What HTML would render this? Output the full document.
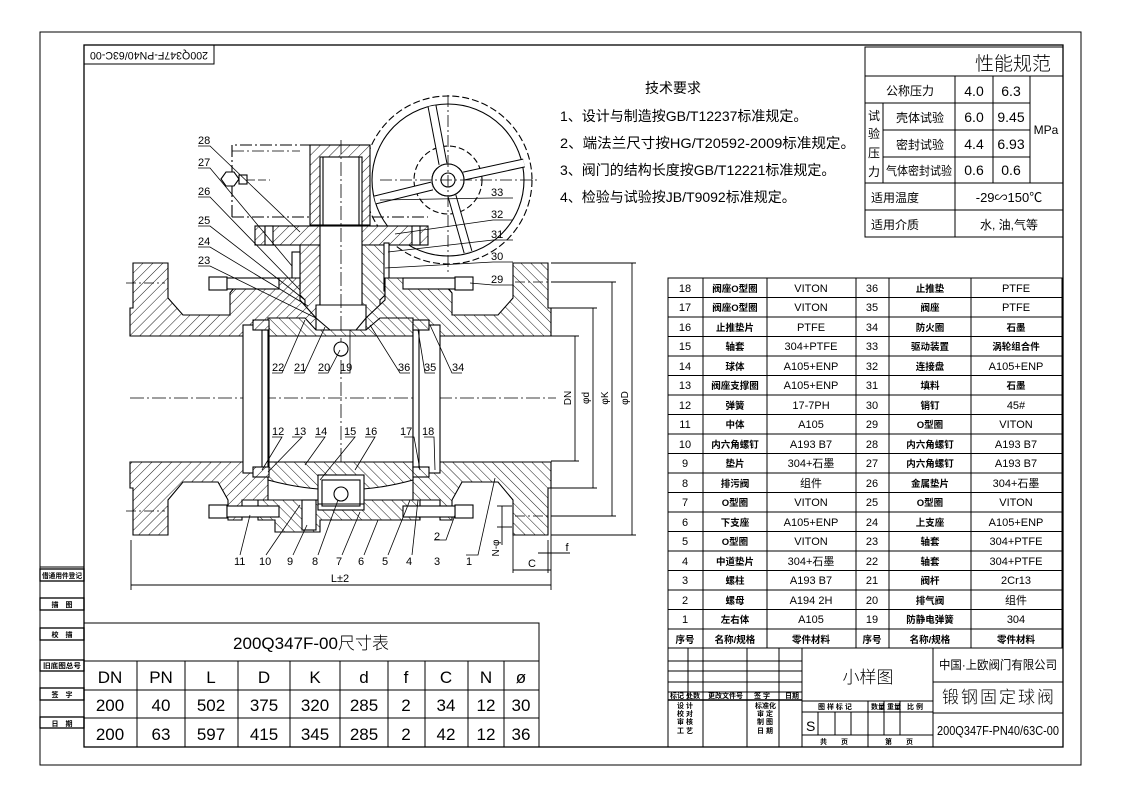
<!DOCTYPE html>
<html><head><meta charset="utf-8"><style>
html,body{margin:0;padding:0;background:#fff;}
svg{display:block;}
text{font-family:"Liberation Sans","Noto Sans CJK SC",sans-serif;fill:#000;}
.c{font-family:"Liberation Sans","Noto Sans CJK SC",sans-serif;}
</style></head><body>
<svg width="1122" height="793" viewBox="0 0 1122 793" xmlns="http://www.w3.org/2000/svg">
<defs>
<pattern id="h" patternUnits="userSpaceOnUse" width="7" height="7" patternTransform="rotate(45)">
<rect width="7" height="7" fill="#fff"/><line x1="0" y1="0" x2="0" y2="7" stroke="#000" stroke-width="0.9"/>
</pattern>
<pattern id="h2" patternUnits="userSpaceOnUse" width="7" height="7" patternTransform="rotate(-45)">
<rect width="7" height="7" fill="#fff"/><line x1="0" y1="0" x2="0" y2="7" stroke="#000" stroke-width="0.9"/>
</pattern>
</defs>
<rect width="1122" height="793" fill="#fff"/>
<rect x="40" y="32" width="1041" height="733" fill="none" stroke="#000" stroke-width="1"/>
<rect x="84" y="45" width="979" height="702" fill="none" stroke="#000" stroke-width="1.3"/>
<rect x="84" y="45" width="130" height="19" fill="none" stroke="#000"/>
<text x="149" y="55" transform="rotate(180 149 55)" text-anchor="middle" dominant-baseline="middle" font-size="11" textLength="118" lengthAdjust="spacingAndGlyphs">200Q347F-PN40/63C-00</text>

<g stroke="#000" fill="none">
<line x1="40" y1="567" x2="84" y2="567"/>
<rect x="40" y="569" width="44" height="12" stroke-width="1.3"/>
<rect x="40" y="598" width="44" height="12" stroke-width="1.3"/>
<rect x="40" y="628" width="44" height="12" stroke-width="1.3"/>
<rect x="40" y="660" width="44" height="11" stroke-width="1.3"/>
<rect x="40" y="688" width="44" height="12" stroke-width="1.3"/>
<rect x="40" y="717" width="44" height="11" stroke-width="1.3"/>
</g>
<g class="c" font-size="7" font-weight="bold" text-anchor="middle">
<text x="62" y="578" textLength="40" lengthAdjust="spacingAndGlyphs">借通用件登记</text>
<text x="62" y="607">描　图</text>
<text x="62" y="637">校　描</text>
<text x="62" y="668" textLength="38" lengthAdjust="spacingAndGlyphs">旧底图总号</text>
<text x="62" y="697">签　字</text>
<text x="62" y="726">日　期</text>
</g>

<g stroke="#000" fill="none" stroke-width="1">
<rect x="84" y="623" width="455" height="124"/>
<line x1="84" y1="661" x2="539" y2="661"/>
<line x1="84" y1="690" x2="539" y2="690"/>
<line x1="84" y1="718" x2="539" y2="718"/>
<line x1="137" y1="661" x2="137" y2="747"/><line x1="185" y1="661" x2="185" y2="747"/>
<line x1="238" y1="661" x2="238" y2="747"/><line x1="290" y1="661" x2="290" y2="747"/>
<line x1="340" y1="661" x2="340" y2="747"/><line x1="388" y1="661" x2="388" y2="747"/>
<line x1="425" y1="661" x2="425" y2="747"/><line x1="468" y1="661" x2="468" y2="747"/>
<line x1="504" y1="661" x2="504" y2="747"/>
</g>
<text x="311" y="649" class="c" font-size="17" text-anchor="middle" font-weight="300">200Q347F-00尺寸表</text>
<g font-size="17" text-anchor="middle">
<text x="110" y="683">DN</text><text x="161" y="683">PN</text><text x="211" y="683">L</text><text x="264" y="683">D</text><text x="315" y="683">K</text><text x="364" y="683">d</text><text x="406" y="683">f</text><text x="446" y="683">C</text><text x="486" y="683">N</text><text x="521" y="683">ø</text>
<text x="110" y="711">200</text><text x="161" y="711">40</text><text x="211" y="711">502</text><text x="264" y="711">375</text><text x="315" y="711">320</text><text x="364" y="711">285</text><text x="406" y="711">2</text><text x="446" y="711">34</text><text x="486" y="711">12</text><text x="521" y="711">30</text>
<text x="110" y="740">200</text><text x="161" y="740">63</text><text x="211" y="740">597</text><text x="264" y="740">415</text><text x="315" y="740">345</text><text x="364" y="740">285</text><text x="406" y="740">2</text><text x="446" y="740">42</text><text x="486" y="740">12</text><text x="521" y="740">36</text>
</g>

<g stroke="#000" fill="none">
<rect x="865" y="47" width="198" height="190"/>
<line x1="865" y1="76" x2="1063" y2="76"/>
<line x1="865" y1="103" x2="1030" y2="103"/>
<line x1="883" y1="130" x2="1030" y2="130"/>
<line x1="883" y1="157" x2="1030" y2="157"/>
<line x1="865" y1="183" x2="1063" y2="183"/>
<line x1="865" y1="210" x2="1063" y2="210"/>
<line x1="883" y1="103" x2="883" y2="183"/>
<line x1="955" y1="76" x2="955" y2="237"/>
<line x1="993" y1="76" x2="993" y2="183"/>
<line x1="1030" y1="76" x2="1030" y2="183"/>
</g>
<g class="c" text-anchor="middle">
<text x="1013" y="70" font-size="19" font-weight="300">性能规范</text>
<text x="910" y="95" font-size="12">公称压力</text>
<text x="920" y="122" font-size="12">壳体试验</text>
<text x="920" y="149" font-size="12">密封试验</text>
<text x="919" y="175" font-size="12" textLength="66" lengthAdjust="spacingAndGlyphs">气体密封试验</text>
<text x="874" y="120" font-size="12">试</text><text x="874" y="138" font-size="12">验</text><text x="874" y="157" font-size="12">压</text><text x="874" y="176" font-size="12">力</text>
<text x="895" y="202" font-size="12">适用温度</text>
<text x="895" y="229" font-size="12">适用介质</text>
<text x="1009" y="229" font-size="12">水, 油,气等</text>
</g>
<g font-size="14" text-anchor="middle">
<text x="974" y="96">4.0</text><text x="1011" y="96">6.3</text>
<text x="974" y="122">6.0</text><text x="1011" y="122">9.45</text>
<text x="974" y="149">4.4</text><text x="1011" y="149">6.93</text>
<text x="974" y="175">0.6</text><text x="1011" y="175">0.6</text>
<text x="1046" y="134" font-size="12">MPa</text>
<text x="1009" y="202" class="c" font-size="13">-29∽150℃</text>
</g>

<g class="c" font-size="14">
<text x="645" y="93">技术要求</text>
<text x="560" y="121">1、设计与制造按GB/T12237标准规定。</text>
<text x="560" y="148" textLength="295" lengthAdjust="spacingAndGlyphs">2、端法兰尺寸按HG/T20592-2009标准规定。</text>
<text x="560" y="175">3、阀门的结构长度按GB/T12221标准规定。</text>
<text x="560" y="202">4、检验与试验按JB/T9092标准规定。</text>
</g>

<g stroke="#000" fill="none">
<rect x="668" y="278" width="394" height="370"/>
<line x1="703" y1="278" x2="703" y2="648"/><line x1="767" y1="278" x2="767" y2="648"/>
<line x1="856" y1="278" x2="856" y2="648"/><line x1="889" y1="278" x2="889" y2="648"/>
<line x1="971" y1="278" x2="971" y2="648"/>
</g>
<g stroke="#000">
<line x1="668" y1="297.5" x2="1062" y2="297.5"/><line x1="668" y1="317" x2="1062" y2="317"/><line x1="668" y1="336.5" x2="1062" y2="336.5"/><line x1="668" y1="356" x2="1062" y2="356"/><line x1="668" y1="375.5" x2="1062" y2="375.5"/><line x1="668" y1="395" x2="1062" y2="395"/><line x1="668" y1="414.5" x2="1062" y2="414.5"/><line x1="668" y1="434" x2="1062" y2="434"/><line x1="668" y1="453.5" x2="1062" y2="453.5"/><line x1="668" y1="473" x2="1062" y2="473"/><line x1="668" y1="492.5" x2="1062" y2="492.5"/><line x1="668" y1="512" x2="1062" y2="512"/><line x1="668" y1="531.5" x2="1062" y2="531.5"/><line x1="668" y1="551" x2="1062" y2="551"/><line x1="668" y1="570.5" x2="1062" y2="570.5"/><line x1="668" y1="590" x2="1062" y2="590"/><line x1="668" y1="609.5" x2="1062" y2="609.5"/><line x1="668" y1="629" x2="1062" y2="629"/>
</g>
<g font-size="11" text-anchor="middle">
<text x="685" y="292">18</text><text x="811" y="292">VITON</text><text x="872" y="292">36</text><text x="1016" y="292">PTFE</text>
<text x="685" y="311">17</text><text x="811" y="311">VITON</text><text x="872" y="311">35</text><text x="1016" y="311">PTFE</text>
<text x="685" y="331">16</text><text x="811" y="331">PTFE</text><text x="872" y="331">34</text>
<text x="685" y="350">15</text><text x="811" y="350">304+PTFE</text><text x="872" y="350">33</text>
<text x="685" y="370">14</text><text x="811" y="370">A105+ENP</text><text x="872" y="370">32</text><text x="1016" y="370">A105+ENP</text>
<text x="685" y="389">13</text><text x="811" y="389">A105+ENP</text><text x="872" y="389">31</text>
<text x="685" y="409">12</text><text x="811" y="409">17-7PH</text><text x="872" y="409">30</text><text x="1016" y="409">45#</text>
<text x="685" y="428">11</text><text x="811" y="428">A105</text><text x="872" y="428">29</text><text x="1016" y="428">VITON</text>
<text x="685" y="448">10</text><text x="811" y="448">A193 B7</text><text x="872" y="448">28</text><text x="1016" y="448">A193 B7</text>
<text x="685" y="467">9</text><text x="811" y="467">304+石墨</text><text x="872" y="467">27</text><text x="1016" y="467">A193 B7</text>
<text x="685" y="487">8</text><text x="811" y="487">组件</text><text x="872" y="487">26</text><text x="1016" y="487">304+石墨</text>
<text x="685" y="506">7</text><text x="811" y="506">VITON</text><text x="872" y="506">25</text><text x="1016" y="506">VITON</text>
<text x="685" y="526">6</text><text x="811" y="526">A105+ENP</text><text x="872" y="526">24</text><text x="1016" y="526">A105+ENP</text>
<text x="685" y="545">5</text><text x="811" y="545">VITON</text><text x="872" y="545">23</text><text x="1016" y="545">304+PTFE</text>
<text x="685" y="565">4</text><text x="811" y="565">304+石墨</text><text x="872" y="565">22</text><text x="1016" y="565">304+PTFE</text>
<text x="685" y="584">3</text><text x="811" y="584">A193 B7</text><text x="872" y="584">21</text><text x="1016" y="584">2Cr13</text>
<text x="685" y="604">2</text><text x="811" y="604">A194 2H</text><text x="872" y="604">20</text><text x="1016" y="604">组件</text>
<text x="685" y="623">1</text><text x="811" y="623">A105</text><text x="872" y="623">19</text><text x="1016" y="623">304</text>
</g>
<g class="c" font-size="9.5" font-weight="bold" text-anchor="middle">
<text x="735" y="292">阀座O型圈</text><text x="930" y="292">止推垫</text>
<text x="735" y="311">阀座O型圈</text><text x="930" y="311">阀座</text>
<text x="735" y="331">止推垫片</text><text x="930" y="331">防火圈</text><text x="1016" y="331">石墨</text>
<text x="735" y="350">轴套</text><text x="930" y="350">驱动装置</text><text x="1016" y="350">涡轮组合件</text>
<text x="735" y="370">球体</text><text x="930" y="370">连接盘</text>
<text x="735" y="389">阀座支撑圈</text><text x="930" y="389">填料</text><text x="1016" y="389">石墨</text>
<text x="735" y="409">弹簧</text><text x="930" y="409">销钉</text>
<text x="735" y="428">中体</text><text x="930" y="428">O型圈</text>
<text x="735" y="448">内六角螺钉</text><text x="930" y="448">内六角螺钉</text>
<text x="735" y="467">垫片</text><text x="930" y="467">内六角螺钉</text>
<text x="735" y="487">排污阀</text><text x="930" y="487">金属垫片</text>
<text x="735" y="506">O型圈</text><text x="930" y="506">O型圈</text>
<text x="735" y="526">下支座</text><text x="930" y="526">上支座</text>
<text x="735" y="545">O型圈</text><text x="930" y="545">轴套</text>
<text x="735" y="565">中道垫片</text><text x="930" y="565">轴套</text>
<text x="735" y="584">螺柱</text><text x="930" y="584">阀杆</text>
<text x="735" y="604">螺母</text><text x="930" y="604">排气阀</text>
<text x="735" y="623">左右体</text><text x="930" y="623">防静电弹簧</text>
<text x="685" y="643">序号</text><text x="735" y="643">名称/规格</text><text x="811" y="643">零件材料</text>
<text x="872" y="643">序号</text><text x="930" y="643">名称/规格</text><text x="1016" y="643">零件材料</text>
</g>

<g stroke="#000" fill="none">
<line x1="668" y1="648" x2="668" y2="747"/>
<line x1="802" y1="648" x2="802" y2="747"/>
<line x1="933" y1="648" x2="933" y2="747"/>
<line x1="1063" y1="648" x2="1063" y2="747"/>
<line x1="668" y1="661" x2="802" y2="661"/><line x1="668" y1="671" x2="802" y2="671"/><line x1="668" y1="682" x2="802" y2="682"/><line x1="668" y1="692" x2="802" y2="692"/>
<line x1="668" y1="700" x2="802" y2="700" stroke-width="1.5"/>
<line x1="688" y1="648" x2="688" y2="700"/><line x1="703" y1="648" x2="703" y2="747"/><line x1="747" y1="648" x2="747" y2="747"/><line x1="779" y1="648" x2="779" y2="747"/>
<line x1="802" y1="701" x2="933" y2="701"/>
<line x1="802" y1="712" x2="933" y2="712"/>
<line x1="802" y1="735" x2="933" y2="735"/>
<line x1="818" y1="712" x2="818" y2="735"/><line x1="835" y1="712" x2="835" y2="735"/><line x1="851" y1="712" x2="851" y2="735"/>
<line x1="868" y1="701" x2="868" y2="747"/><line x1="884" y1="701" x2="884" y2="735"/><line x1="900" y1="701" x2="900" y2="735"/>
<line x1="933" y1="682" x2="1063" y2="682"/>
<line x1="933" y1="713" x2="1063" y2="713"/>
</g>
<g class="c" font-size="7" font-weight="bold">
<text x="670" y="698">标记 处数</text><text x="708" y="698">更改文件号</text><text x="754" y="698">签 字</text><text x="785" y="698">日期</text>
<text x="677" y="708">设 计</text><text x="755" y="708">标准化</text>
<text x="677" y="716">校 对</text><text x="757" y="716">审 定</text>
<text x="677" y="724">审 核</text><text x="757" y="724">制 图</text>
<text x="677" y="733">工 艺</text><text x="757" y="733">日 期</text>
<text x="818" y="709">图 样 标 记</text><text x="871" y="709">数量 重量</text><text x="907" y="709">比 例</text>
<text x="820" y="744">共　　页</text><text x="885" y="744">第　　页</text>
</g>
<text x="868" y="683" class="c" font-size="17" text-anchor="middle" font-weight="300">小样图</text>
<text x="998" y="669" class="c" font-size="12" text-anchor="middle" textLength="118" lengthAdjust="spacingAndGlyphs">中国·上欧阀门有限公司</text>
<text x="998" y="703" class="c" font-size="17" text-anchor="middle" font-weight="300" textLength="112" lengthAdjust="spacing">锻钢固定球阀</text>
<text x="998" y="735" font-size="13" text-anchor="middle" textLength="122" lengthAdjust="spacingAndGlyphs">200Q347F-PN40/63C-00</text>
<text x="806" y="731" font-size="14">S</text>

<!-- VALVE -->
<g stroke="#000" stroke-width="1.1">
<g fill="none">
<circle cx="448" cy="180" r="84" stroke-dasharray="7,3"/>
<circle cx="448" cy="180" r="76"/>
<circle cx="448" cy="180" r="34" stroke-dasharray="6,3"/>
<circle cx="448" cy="180" r="16"/>
<circle cx="448" cy="180" r="7"/>
</g>
<g fill="none">
<line x1="443" y1="164" x2="432" y2="106" stroke-width="9"/>
<line x1="464" y1="176" x2="524" y2="163" stroke-width="9"/>
<line x1="432" y1="186" x2="375" y2="200" stroke-width="9"/>
<line x1="452" y1="196" x2="468" y2="252" stroke-width="9"/>
</g>
<g fill="none" stroke="#fff">
<line x1="443" y1="164" x2="432" y2="106" stroke-width="7"/>
<line x1="464" y1="176" x2="524" y2="163" stroke-width="7"/>
<line x1="432" y1="186" x2="375" y2="200" stroke-width="7"/>
<line x1="452" y1="196" x2="468" y2="252" stroke-width="7"/>
</g>
<circle cx="448" cy="180" r="16" fill="#fff"/>
<circle cx="448" cy="180" r="7" fill="none"/>
<line x1="448" y1="95" x2="448" y2="275" stroke-dasharray="12,3,2,3" stroke-width="0.8"/>
<line x1="380" y1="180" x2="540" y2="180" stroke-dasharray="12,3,2,3" stroke-width="0.8"/>
<polyline points="232,217 232,145 360,145" fill="none" stroke-dasharray="12,3,2,3"/>
<line x1="232" y1="151" x2="300" y2="151" stroke-dasharray="12,3,2,3" stroke-width="0.8"/>
<line x1="232" y1="217" x2="428" y2="217" stroke-dasharray="12,3,2,3"/>
<rect x="310" y="145" width="60" height="80" fill="url(#h)"/>
<rect x="320" y="157" width="42" height="68" fill="#fff"/>
<line x1="323" y1="157" x2="323" y2="225"/><line x1="359" y1="157" x2="359" y2="225"/>
<polygon points="221,179 226,172 234,172 239,179 234,186 226,186" fill="#fff"/>
<rect x="239" y="175" width="8" height="9" fill="#fff"/>
<line x1="247" y1="180" x2="270" y2="180" stroke-dasharray="8,3" stroke-width="0.7"/>
<rect x="255" y="226" width="173" height="19" fill="url(#h)"/>
<rect x="265" y="226" width="8" height="19" fill="#fff"/>
<rect x="412" y="226" width="8" height="19" fill="#fff"/>
<polygon points="300,245 320,245 320,318 305,318 305,300 300,295" fill="url(#h)"/>
<polygon points="362,245 385,245 385,295 380,300 380,318 362,318" fill="url(#h2)"/>
<rect x="292" y="252" width="8" height="36" fill="#fff"/>
<rect x="384" y="243" width="5" height="48" fill="#fff"/>
<rect x="320" y="226" width="42" height="80" fill="#fff"/>
<polygon points="316,305 366,305 366,318 356,330 330,330 316,318" fill="#fff"/>
<line x1="341" y1="140" x2="341" y2="480" stroke-dasharray="14,3,2,3" stroke-width="0.8"/>
<polygon points="130,308 133,308 133,263 168,263 168,298 183,315 230,315 230,293 242,278 300,278 300,300 316,318 316,336 130,336" fill="url(#h)"/>
<polygon points="551,308 548,308 548,263 513,263 513,298 498,315 452,315 452,293 440,278 385,278 385,300 366,318 366,336 551,336" fill="url(#h2)"/>
<polygon points="130,462 268,462 268,500 242,500 242,520 228,520 228,500 218,482 183,482 168,500 168,535 133,535 133,488 130,488" fill="url(#h)"/>
<polygon points="551,462 413,462 413,500 440,500 440,520 452,520 452,500 462,482 498,482 513,500 513,535 548,535 548,488 551,488" fill="url(#h2)"/>
<path d="M268,462 L413,462 L413,480 Q341,500 268,480 Z" fill="url(#h2)"/>
<polygon points="258,500 420,500 420,520 320,520 320,532 275,532 275,520 258,520" fill="url(#h2)"/>
<rect x="318" y="475" width="46" height="35" fill="#fff"/>
<rect x="322" y="480" width="38" height="26" fill="#fff"/>
<line x1="318" y1="504" x2="364" y2="504"/>
<circle cx="341" cy="494" r="7" fill="#fff"/>
<path d="M268,318 L305,318 L316,330 L366,330 L380,318 L413,318 L413,336 L268,336 Z" fill="url(#h2)"/>
<line x1="130" y1="336" x2="551" y2="336"/>
<line x1="130" y1="462" x2="551" y2="462"/>
<line x1="130" y1="398" x2="556" y2="398" stroke-dasharray="14,3,2,3" stroke-width="0.8"/>
<rect x="243" y="325" width="26" height="148" fill="#fff"/>
<rect x="262" y="330" width="6" height="138" fill="#fff"/>
<rect x="413" y="325" width="27" height="148" fill="#fff"/>
<rect x="413" y="330" width="6" height="138" fill="#fff"/>
<rect x="253" y="320" width="16" height="10" fill="url(#h)"/>
<rect x="413" y="320" width="16" height="10" fill="url(#h2)"/>
<rect x="253" y="467" width="16" height="10" fill="url(#h)"/>
<rect x="413" y="467" width="16" height="10" fill="url(#h2)"/>
<circle cx="341" cy="349" r="7" fill="#fff"/>
<g fill="#fff">
<rect x="209" y="277" width="18" height="13"/><rect x="227" y="278" width="52" height="11"/>
<rect x="455" y="277" width="18" height="13"/><rect x="403" y="278" width="52" height="11"/>
<rect x="209" y="505" width="18" height="13"/><rect x="227" y="506" width="52" height="11"/>
<rect x="455" y="505" width="18" height="13"/><rect x="403" y="506" width="52" height="11"/>
<rect x="302" y="500" width="14" height="30"/>
</g>
<line x1="126" y1="283" x2="165" y2="283" stroke-dasharray="10,3,2,3" stroke-width="0.8"/>
<line x1="126" y1="511" x2="165" y2="511" stroke-dasharray="10,3,2,3" stroke-width="0.8"/>
<line x1="515" y1="282" x2="548" y2="282" stroke-dasharray="10,3,2,3" stroke-width="0.8"/>
<line x1="515" y1="516" x2="548" y2="516" stroke-dasharray="10,3,2,3" stroke-width="0.8"/>
</g>

<g stroke="#000" stroke-width="0.9" fill="none">
<line x1="551" y1="263" x2="636" y2="263"/><line x1="551" y1="535" x2="636" y2="535"/>
<line x1="551" y1="282" x2="616" y2="282"/><line x1="551" y1="516" x2="616" y2="516"/>
<line x1="551" y1="308" x2="597" y2="308"/><line x1="551" y1="488" x2="597" y2="488"/>
<line x1="551" y1="336" x2="579" y2="336"/><line x1="551" y1="461" x2="579" y2="461"/>
<line x1="575" y1="336" x2="575" y2="461"/>
<line x1="593" y1="308" x2="593" y2="488"/>
<line x1="612" y1="282" x2="612" y2="516"/>
<line x1="632" y1="263" x2="632" y2="535"/>
<line x1="131" y1="540" x2="131" y2="590"/><line x1="551" y1="488" x2="551" y2="590"/>
<line x1="131" y1="585" x2="551" y2="585"/>
<line x1="513" y1="535" x2="513" y2="573"/><line x1="548" y1="540" x2="548" y2="573"/>
<line x1="513" y1="570" x2="551" y2="570"/>
<line x1="538" y1="553" x2="570" y2="553"/>
<line x1="502" y1="506" x2="502" y2="545"/>
<line x1="497" y1="506" x2="512" y2="506"/><line x1="497" y1="527" x2="512" y2="527"/>
</g>
<g font-size="10" text-anchor="middle">
<text transform="translate(571 398) rotate(-90)">DN</text>
<text transform="translate(589 398) rotate(-90)">φd</text>
<text transform="translate(608 398) rotate(-90)">φK</text>
<text transform="translate(628 398) rotate(-90)">φD</text>
<text transform="translate(499 548) rotate(-90)">N-φ</text>
<text x="340" y="582" font-size="11">L±2</text>
<text x="532" y="567" font-size="11">C</text>
<text x="567" y="551" font-size="11">f</text>
</g>

<g stroke="#000" stroke-width="0.8" fill="none">
<path d="M198,146 h12 L300,232"/><path d="M198,168 h12 L292,266"/><path d="M198,197 h12 L300,290"/>
<path d="M198,226 h12 L305,300"/><path d="M198,247 h12 L308,306"/><path d="M198,266 h12 L316,318"/>
<path d="M513,198 h-20 L380,200"/><path d="M513,220 h-20 L395,234"/><path d="M513,240 h-20 L388,252"/>
<path d="M513,262 h-20 L385,268"/><path d="M513,285 h-20 L470,283"/>
<path d="M272,373 h10 L305,320"/><path d="M294,373 h10 L325,327"/><path d="M318,373 h10 L340,350"/><path d="M340,373 h10 L350,330"/>
<path d="M410,373 h-10 L370,325"/><path d="M435,373 h-10 L418,330"/><path d="M462,373 h-10 L430,325"/>
<path d="M272,437 h10 L262,470"/><path d="M292,437 h10 L268,472"/><path d="M315,437 h10 L305,465"/><path d="M345,437 h10 L320,480"/><path d="M365,437 h10 L355,470"/>
<path d="M404,437 h10 L420,470"/><path d="M424,437 h10 L435,470"/>
<path d="M240,555 L250,515"/><path d="M266,555 L300,505"/><path d="M293,555 L307,525"/><path d="M318,555 L338,500"/>
<path d="M342,555 L360,512"/><path d="M364,555 L378,520"/><path d="M388,555 L410,500"/><path d="M412,555 L418,500"/>
<path d="M434,540 h12 L455,515"/><path d="M466,555 h12 L495,478"/>
</g>
<g font-size="11">
<text x="198" y="144">28</text><text x="198" y="166">27</text><text x="198" y="195">26</text><text x="198" y="224">25</text><text x="198" y="245">24</text><text x="198" y="264">23</text>
<text x="491" y="196">33</text><text x="491" y="218">32</text><text x="491" y="238">31</text><text x="491" y="260">30</text><text x="491" y="283">29</text>
<text x="272" y="371">22</text><text x="294" y="371">21</text><text x="318" y="371">20</text><text x="340" y="371">19</text><text x="398" y="371">36</text><text x="424" y="371">35</text><text x="452" y="371">34</text>
<text x="272" y="435">12</text><text x="294" y="435">13</text><text x="315" y="435">14</text><text x="344" y="435">15</text><text x="365" y="435">16</text><text x="400" y="435">17</text><text x="422" y="435">18</text>
<text x="234" y="565">11</text><text x="259" y="565">10</text><text x="287" y="565">9</text><text x="312" y="565">8</text><text x="336" y="565">7</text><text x="358" y="565">6</text><text x="382" y="565">5</text><text x="406" y="565">4</text>
<text x="434" y="565">3</text><text x="434" y="540">2</text><text x="466" y="565">1</text>
</g>
</svg>
</body></html>
